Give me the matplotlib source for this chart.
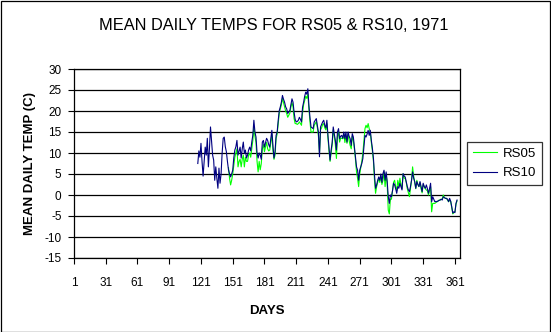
import numpy as np
import matplotlib
matplotlib.use("Agg")
import matplotlib.pyplot as plt
from matplotlib.patches import Rectangle

plt.rcParams['font.family'] = ['Liberation Sans', 'DejaVu Sans']
plt.rcParams['axes.unicode_minus'] = False

title = "MEAN DAILY TEMPS FOR RS05 & RS10, 1971"
x_label = "DAYS"
y_label = "MEAN DAILY TEMP (C)"
x_ticks = [1, 31, 61, 91, 121, 151, 181, 211, 241, 271, 301, 331, 361]
y_ticks = [-15, -10, -5, 0, 5, 10, 15, 20, 25, 30]

rs10_start_day = 118
rs10 = [
    7.5, 10.5, 9.0, 12.3, 8.0, 4.5, 8.0, 11.4, 9.5, 13.5,          # 118-127
    6.7, 11.0, 16.2, 13.0, 9.5, 8.3, 3.5, 6.7, 4.0, 1.6,           # 128-137
    6.4, 2.8, 5.0, 10.0, 13.5, 13.8, 11.5, 10.3, 8.0, 6.0,         # 138-147
    5.0, 4.3, 5.0, 5.9, 8.8, 10.7, 11.5, 13.0, 9.5, 10.5,          # 148-157
    11.4, 8.8, 11.0, 12.6, 9.9, 10.7, 8.8, 9.5, 10.7, 11.4,        # 158-167
    10.5, 12.6, 14.2, 17.8, 15.0, 13.8, 10.0, 8.8, 10.0, 9.5,      # 168-177
    8.5, 12.6, 13.0, 11.4, 12.5, 13.5, 13.0, 12.0, 11.4, 13.5,     # 178-187
    15.4, 11.8, 8.8, 10.3, 14.2, 15.0, 17.8, 20.1, 21.0, 22.1,     # 188-197
    23.7, 22.8, 22.1, 21.0, 20.5, 19.4, 19.8, 20.1, 21.5, 22.9,    # 198-207
    22.1, 19.7, 18.0, 17.4, 17.5, 17.8, 18.5, 18.0, 17.4, 20.9,    # 208-217
    22.1, 23.5, 24.5, 24.0, 25.3, 21.3, 18.5, 16.2, 16.0, 15.8,    # 218-227
    17.4, 17.8, 18.2, 16.5, 15.0, 9.1, 16.2, 16.8, 17.4, 17.8,     # 228-237
    16.6, 16.0, 17.8, 14.2, 11.1, 8.3, 10.7, 12.5, 16.2, 14.5,     # 238-247
    13.0, 10.7, 15.0, 15.8, 13.4, 14.0, 14.2, 13.5, 15.0, 13.4,    # 248-257
    15.0, 12.6, 15.0, 14.0, 13.4, 11.8, 14.6, 13.8, 11.5, 9.1,     # 258-267
    6.7, 5.9, 3.5, 5.9, 6.7, 7.5, 8.7, 11.4, 14.2, 13.8,           # 268-277
    14.5, 15.4, 14.2, 15.4, 13.0, 11.1, 8.7, 4.7, 1.6, 2.4,        # 278-287
    3.5, 4.3, 3.5, 5.0, 3.0, 5.1, 5.9, 3.5, 5.5, 3.2,              # 288-297
    -0.4, -2.0, 0.0, -0.4, 1.0, 2.8, 2.4, 1.5, 0.4, 2.0,           # 298-307
    1.6, 2.8, 2.0, 1.2, 5.1, 4.5, 4.3, 3.2, 2.0, 1.2,              # 308-317
    0.8, 2.0, 3.5, 5.5, 4.0, 3.2, 1.6, 3.2, 2.5, 2.0,              # 318-327
    3.2, 2.0, 0.8, 2.8, 2.0, 1.6, 2.4, 1.5, 0.4, 1.5,              # 328-337
    2.8, -1.6, -0.4, -1.0, -1.6, -1.5, -1.6, -1.4, -1.3, -1.2,     # 338-347
    -1.0, -1.2, -0.4, -0.6, -0.8, -0.8, -1.0, -1.6, -0.8, -1.5,    # 348-357
    -2.8, -4.3, -4.0, -4.2, -2.0, -1.2,                            # 358-363
]

rs05_start_day = 147
rs05 = [
    6.5, 4.0, 2.4, 3.5, 5.0, 7.0, 9.0, 10.0, 11.0, 6.7,            # 147-156
    8.0, 8.5, 6.7, 8.5, 9.5, 6.7, 9.0, 8.0, 8.0, 9.5,              # 157-166
    10.0, 9.0, 11.0, 13.0, 16.2, 14.0, 12.5, 8.0, 5.5, 8.0,        # 167-176
    6.0, 7.5, 11.0, 12.0, 10.3, 11.5, 12.5, 11.0, 10.5, 10.7,      # 177-186
    12.5, 14.5, 10.7, 8.5, 9.5, 13.5, 14.5, 17.0, 19.5, 20.5,      # 187-196
    21.5, 23.0, 22.0, 21.0, 20.0, 19.4, 18.5, 19.0, 19.5, 21.0,    # 197-206
    22.0, 21.0, 18.2, 17.0, 17.0, 16.8, 17.0, 17.4, 17.0, 16.6,    # 207-216
    19.5, 21.5, 22.5, 23.5, 23.0, 24.0, 20.5, 17.5, 15.0, 15.0,    # 217-226
    15.0, 16.6, 17.0, 17.5, 16.0, 14.0, 10.0, 15.5, 16.0, 16.8,    # 227-236
    17.0, 16.0, 15.5, 17.0, 13.5, 10.5, 8.0, 10.0, 12.0, 15.5,     # 237-246
    14.0, 12.0, 8.7, 14.0, 15.0, 12.6, 13.5, 13.5, 13.4, 14.5,     # 247-256
    12.5, 14.0, 12.3, 14.5, 13.0, 11.8, 11.0, 14.0, 13.0, 11.0,    # 257-266
    8.5, 5.5, 4.0, 2.0, 5.0, 6.5, 8.0, 10.0, 13.0, 15.8,           # 267-276
    16.6, 16.0, 17.0, 15.8, 15.0, 12.5, 10.5, 8.0, 3.5, 0.4,       # 277-286
    2.0, 3.0, 4.0, 3.0, 4.5, 2.5, 3.5, 5.5, 2.0, 5.0,              # 287-296
    2.5, -3.6, -4.5, -1.0, -1.0, 1.0, 3.0, 3.5, 2.0, 1.0,          # 297-306
    3.5, 2.0, 4.0, 2.5, 1.5, 5.0, 4.0, 4.0, 3.0, 1.5,              # 307-316
    0.5, -0.4, 1.5, 3.5, 6.7, 4.5, 3.0, 1.5, 3.5, 2.5,             # 317-326
    2.0, 3.0, 1.5, 0.5, 2.5, 2.0, 1.5, 1.2, 1.0, 0.0,              # 327-336
    1.0, 2.0, -4.0, -2.0, -2.0, -2.0, -1.8, -1.6, -1.5, -1.2,      # 337-346
    -1.2, -1.0, -1.0, 0.0, -0.6, -0.8, -0.8, -1.2, -1.6, -1.2,     # 347-356
    -1.5, -3.0, -4.5, -4.2, -4.0, -2.2, -1.4,                      # 357-363
]

rs10_days = np.arange(rs10_start_day, rs10_start_day + len(rs10))
rs05_days = np.arange(rs05_start_day, rs05_start_day + len(rs05))

W, H = 551, 332
fig = plt.figure(figsize=(W / 100, H / 100), dpi=100)
fig.patch.set_facecolor('white')

L, R, T, B = 74, 460, 69, 258
ax = fig.add_axes([L / W, 1 - B / H, (R - L) / W, (B - T) / H])
ax.set_facecolor('white')

ax.plot(rs05_days, rs05, color='#00FF00', lw=0.8, label='RS05', zorder=3)
ax.plot(rs10_days, rs10, color='#000080', lw=0.8, label='RS10', zorder=4)

ax.set_xlim(1, 365.8)
ax.set_ylim(-15, 30)
ax.set_xticks(x_ticks)
ax.set_yticks(y_ticks)
ax.yaxis.grid(True, color='black', lw=0.9)
ax.set_axisbelow(True)
for s in ax.spines.values():
    s.set_color('black')
    s.set_linewidth(0.9)
ax.tick_params(axis='both', direction='out', length=4, width=0.8,
               colors='black', labelsize=8.5, pad=5)
ax.tick_params(axis='x', pad=10)

ax.set_xlabel(x_label, fontsize=9.5, fontweight='bold', labelpad=11)
ax.set_ylabel(y_label, fontsize=9.5, fontweight='bold', labelpad=6)

fig.text(274 / W, 1 - 26 / H, title, ha='center', va='center', fontsize=11.8)

leg = fig.legend(loc='center', bbox_to_anchor=(504.5 / W, 1 - 163.5 / H),
                 fontsize=9.5, frameon=True, fancybox=False, shadow=False,
                 handlelength=1.8, handletextpad=0.45, borderpad=0.45,
                 labelspacing=0.55, borderaxespad=0)
leg.get_frame().set_edgecolor('black')
leg.get_frame().set_linewidth(0.9)

fig.patches.append(Rectangle((0.5 / W, 0.5 / H), 1 - 1.5 / W, 1 - 1.5 / H,
                             transform=fig.transFigure, fill=False,
                             edgecolor='black', lw=0.9))

fig.savefig('out.png', dpi=100)
